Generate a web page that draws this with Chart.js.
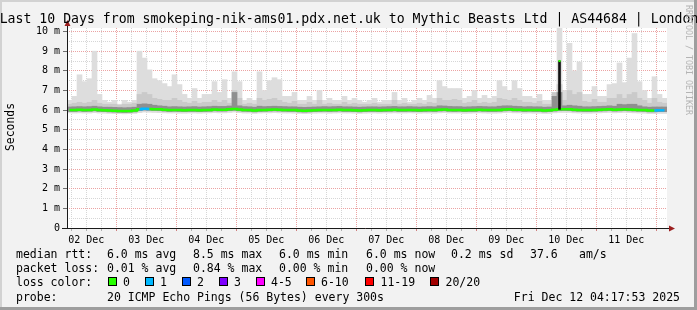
<!DOCTYPE html>
<html>
<head>
<meta charset="utf-8">
<script src="https://cdn.jsdelivr.net/npm/chart.js@4/dist/chart.umd.min.js"></script>
<style>
  html, body { margin: 0; padding: 0; background: #f2f2f2; }
  canvas { display: block; }
</style>
</head>
<body>
<canvas id="smoke" width="697" height="310"></canvas>
<script>
// 10 days, 2-hour bins, starting Dec 2 04:17:53
const startHour = 4 + 17 / 60 + 53 / 3600;
const dayLabels = ["02 Dec", "03 Dec", "04 Dec", "05 Dec", "06 Dec", "07 Dec", "08 Dec", "09 Dec", "10 Dec", "11 Dec"];

// smoke (ms): outer min / max, inner shades, median
const smokeMax = [
  6.5, 6.7, 7.8, 7.45, 7.6, 9.0, 6.8, 6.5, 6.4, 6.5,
  6.3, 6.5, 6.4, 6.5, 9.0, 8.65, 8.05, 7.6, 7.5, 7.35,
  7.2, 7.8, 7.3, 6.8, 6.6, 7.1, 6.6, 6.8, 6.8, 7.45,
  6.9, 7.55, 6.6, 7.95, 7.45, 6.5, 6.6, 6.5, 7.95, 7.0,
  7.5, 7.65, 7.55, 6.7, 6.7, 6.9, 6.5, 6.5, 6.7, 6.5,
  7.0, 6.5, 6.6, 6.5, 6.5, 6.7, 6.5, 6.6, 6.5, 6.4,
  6.5, 6.6, 6.4, 6.5, 6.5, 6.9, 6.5, 6.6, 6.4, 6.5,
  6.6, 6.5, 6.75, 6.6, 7.5, 7.2, 7.1, 7.1, 7.1, 6.6,
  6.7, 7.0, 6.6, 6.75, 6.6, 6.7, 7.5, 7.2, 7.0, 7.5,
  7.1, 6.7, 6.7, 6.6, 6.8, 6.5, 6.5, 6.75, 10.2, 7.0,
  9.4, 8.0, 8.45, 6.8, 6.8, 7.2, 6.7, 6.7, 7.3, 7.35,
  8.4, 7.4, 8.65, 9.9, 7.45, 7.0, 6.6, 7.7, 6.8, 6.6
];
const smokeMid = [
  6.3, 6.35, 6.4, 6.35, 6.4, 6.5, 6.35, 6.3, 6.3, 6.3,
  6.25, 6.3, 6.3, 6.35, 6.8, 6.9, 6.8, 6.6, 6.55, 6.5,
  6.5, 6.6, 6.5, 6.4, 6.35, 6.45, 6.35, 6.4, 6.4, 6.5,
  6.4, 6.5, 6.35, 7.0, 6.6, 6.3, 6.35, 6.3, 6.6, 6.5,
  6.55, 6.6, 6.5, 6.4, 6.35, 6.45, 6.3, 6.3, 6.4, 6.3,
  6.5, 6.3, 6.35, 6.3, 6.3, 6.4, 6.3, 6.35, 6.3, 6.3,
  6.3, 6.35, 6.3, 6.3, 6.3, 6.5, 6.3, 6.35, 6.3, 6.3,
  6.35, 6.3, 6.4, 6.35, 6.6, 6.5, 6.5, 6.55, 6.5, 6.35,
  6.4, 6.5, 6.35, 6.4, 6.35, 6.4, 6.6, 6.55, 6.5, 6.6,
  6.5, 6.4, 6.4, 6.35, 6.45, 6.3, 6.3, 6.9, 7.3, 6.5,
  7.0, 6.8, 6.9, 6.45, 6.4, 6.55, 6.4, 6.4, 6.6, 6.6,
  6.8, 6.6, 6.8, 6.9, 6.6, 6.5, 6.35, 6.6, 6.4, 6.35
];
const smokeDark = [
  6.16, 6.17, 6.18, 6.17, 6.18, 6.2, 6.17, 6.15, 6.15, 6.14,
  6.13, 6.12, 6.13, 6.15, 6.3, 6.32, 6.3, 6.25, 6.22, 6.2,
  6.17, 6.18, 6.17, 6.16, 6.17, 6.18, 6.16, 6.17, 6.18, 6.2,
  6.19, 6.19, 6.21, 6.9, 6.22, 6.18, 6.17, 6.15, 6.2, 6.18,
  6.19, 6.2, 6.19, 6.18, 6.17, 6.17, 6.15, 6.14, 6.15, 6.16,
  6.17, 6.18, 6.17, 6.18, 6.19, 6.17, 6.17, 6.16, 6.15, 6.16,
  6.17, 6.17, 6.16, 6.17, 6.18, 6.19, 6.17, 6.17, 6.18, 6.17,
  6.16, 6.17, 6.18, 6.17, 6.22, 6.21, 6.19, 6.18, 6.18, 6.16,
  6.17, 6.18, 6.19, 6.18, 6.17, 6.17, 6.2, 6.22, 6.22, 6.2,
  6.19, 6.17, 6.18, 6.17, 6.17, 6.15, 6.16, 6.7, 6.9, 6.22,
  6.25, 6.22, 6.2, 6.17, 6.17, 6.18, 6.19, 6.2, 6.22, 6.2,
  6.3, 6.28, 6.3, 6.3, 6.22, 6.17, 6.15, 6.16, 6.16, 6.16
];
const smokeLow = [
  5.93, 5.93, 5.95, 5.93, 5.94, 5.96, 5.93, 5.92, 5.91, 5.9,
  5.89, 5.88, 5.89, 5.91, 5.97, 6.0, 5.99, 5.98, 5.97, 5.95,
  5.93, 5.94, 5.93, 5.92, 5.93, 5.93, 5.92, 5.93, 5.94, 5.96,
  5.95, 5.95, 5.97, 5.99, 5.96, 5.94, 5.93, 5.91, 5.93, 5.94,
  5.95, 5.96, 5.95, 5.94, 5.93, 5.93, 5.91, 5.9, 5.91, 5.92,
  5.93, 5.94, 5.93, 5.94, 5.95, 5.93, 5.93, 5.92, 5.91, 5.92,
  5.93, 5.93, 5.92, 5.93, 5.94, 5.95, 5.93, 5.93, 5.94, 5.93,
  5.92, 5.93, 5.94, 5.93, 5.95, 5.96, 5.94, 5.93, 5.94, 5.92,
  5.93, 5.93, 5.95, 5.94, 5.93, 5.93, 5.94, 5.96, 5.97, 5.95,
  5.95, 5.93, 5.94, 5.93, 5.93, 5.91, 5.92, 5.95, 5.97, 5.98,
  5.97, 5.95, 5.94, 5.93, 5.93, 5.94, 5.95, 5.96, 5.97, 5.95,
  5.96, 5.97, 5.96, 5.95, 5.94, 5.93, 5.91, 5.91, 5.92, 5.92
];
const smokeMin = [
  5.86, 5.85, 5.86, 5.85, 5.85, 5.87, 5.85, 5.84, 5.83, 5.82,
  5.82, 5.81, 5.82, 5.83, 5.87, 5.9, 5.89, 5.88, 5.87, 5.86,
  5.85, 5.85, 5.84, 5.84, 5.85, 5.85, 5.84, 5.85, 5.86, 5.87,
  5.86, 5.86, 5.88, 5.9, 5.87, 5.85, 5.85, 5.83, 5.85, 5.86,
  5.86, 5.87, 5.86, 5.85, 5.85, 5.84, 5.83, 5.82, 5.83, 5.84,
  5.85, 5.85, 5.84, 5.85, 5.86, 5.85, 5.85, 5.84, 5.83, 5.84,
  5.85, 5.85, 5.84, 5.85, 5.85, 5.86, 5.85, 5.85, 5.86, 5.85,
  5.84, 5.85, 5.85, 5.84, 5.86, 5.87, 5.85, 5.85, 5.85, 5.83,
  5.84, 5.85, 5.86, 5.85, 5.84, 5.84, 5.85, 5.87, 5.88, 5.86,
  5.86, 5.84, 5.85, 5.84, 5.84, 5.83, 5.83, 5.86, 5.88, 5.88,
  5.88, 5.86, 5.85, 5.84, 5.84, 5.85, 5.86, 5.87, 5.88, 5.86,
  5.87, 5.88, 5.87, 5.86, 5.85, 5.84, 5.82, 5.82, 5.83, 5.83
];
const median = [
  6.0, 6.0, 6.02, 6.0, 6.01, 6.03, 6.0, 5.99, 5.98, 5.97,
  5.96, 5.95, 5.96, 5.98, 6.04, 6.07, 6.06, 6.05, 6.04, 6.02,
  6.0, 6.01, 6.0, 5.99, 6.0, 6.0, 5.99, 6.0, 6.01, 6.03,
  6.02, 6.02, 6.04, 6.06, 6.03, 6.01, 6.0, 5.98, 6.0, 6.01,
  6.02, 6.03, 6.02, 6.01, 6.0, 6.0, 5.98, 5.97, 5.98, 5.99,
  6.0, 6.01, 6.0, 6.01, 6.02, 6.0, 6.0, 5.99, 5.98, 5.99,
  6.0, 6.0, 5.99, 6.0, 6.01, 6.02, 6.0, 6.0, 6.01, 6.0,
  5.99, 6.0, 6.01, 6.0, 6.02, 6.03, 6.01, 6.0, 6.01, 5.99,
  6.0, 6.0, 6.02, 6.01, 6.0, 6.0, 6.01, 6.03, 6.04, 6.02,
  6.02, 6.0, 6.01, 6.0, 6.0, 5.98, 5.99, 6.02, 6.04, 6.05,
  6.04, 6.02, 6.01, 6.0, 6.0, 6.01, 6.02, 6.03, 6.04, 6.02,
  6.03, 6.04, 6.03, 6.02, 6.01, 6.0, 5.98, 5.98, 5.99, 5.99
];
// bins with lost pings, and the one median spike
const lossBins = [15, 118];
const lossCounts = [1, 1];
const spikeBins = [98];
const spikeValues = [8.5];

const lossNames = ["0", "1", "2", "3", "4-5", "6-10", "11-19", "20/20"];
const lossColors = ["#26ff00", "#00b8ff", "#0059ff", "#7e00ff", "#ff00ff", "#ff5500", "#ff0000", "#a10000"];
const rttStats = ["6.0 ms avg", "8.5 ms max", "6.0 ms min", "6.0 ms now", "0.2 ms sd", "37.6", "am/s"];
const lossStats = ["0.01 % avg", "0.84 % max", "0.00 % min", "0.00 % now"];

const binLabels = median.map((v, i) => String(i));
const range = (lo, hi) => lo.map((v, i) => [v, hi[i]]);
const lossAt = i => { const k = lossBins.indexOf(i); return k < 0 ? 0 : lossCounts[k]; };
const spikeBar = median.map((v, i) => { const k = spikeBins.indexOf(i); return k < 0 ? null : [v, spikeValues[k]]; });
const spikeTop = median.map((v, i) => { const k = spikeBins.indexOf(i); return k < 0 ? null : spikeValues[k]; });

const MONO = '"DejaVu Sans Mono", monospace';
const MAJOR = "#eba3a3";
const MINOR = "#d6d6d6";
const tv = c => (c.tick ? c.tick.value : 0.25);

const frame = {
  id: "frame",
  beforeDraw(chart) {
    const c = chart.ctx, a = chart.chartArea;
    c.save();
    c.fillStyle = "#f2f2f2"; c.fillRect(0, 0, 697, 310);
    c.fillStyle = "#d2d2d2"; c.fillRect(0, 0, 697, 2); c.fillRect(0, 0, 2, 310);
    c.fillStyle = "#9e9e9e"; c.fillRect(0, 307, 697, 3); c.fillRect(694, 0, 3, 310);
    c.fillStyle = "#ffffff"; c.fillRect(a.left, a.top, a.right - a.left, a.bottom - a.top);
    c.restore();
  },
  afterDraw(chart) {
    const c = chart.ctx, a = chart.chartArea;
    c.save();
    // axes with arrows
    c.strokeStyle = "#1a1a1a"; c.lineWidth = 1;
    c.beginPath();
    c.moveTo(a.left + 0.5, a.bottom); c.lineTo(a.left + 0.5, a.top - 3);
    c.moveTo(a.left - 5, a.bottom + 0.5); c.lineTo(a.right + 2, a.bottom + 0.5);
    c.stroke();
    c.fillStyle = "#9b1f1f";
    c.beginPath();
    c.moveTo(a.left + 0.5, a.top - 8); c.lineTo(a.left - 2.5, a.top - 2); c.lineTo(a.left + 3.5, a.top - 2); c.closePath();
    c.moveTo(a.right + 8, a.bottom + 0.5); c.lineTo(a.right + 2, a.bottom - 2.5); c.lineTo(a.right + 2, a.bottom + 3.5); c.closePath();
    c.fill();

    // title
    c.fillStyle = "#000";
    c.font = "13.2px " + MONO;
    c.textAlign = "center"; c.textBaseline = "alphabetic";
    c.fillText("Last 10 Days from smokeping-nik-ams01.pdx.net.uk to Mythic Beasts Ltd | AS44684 | London", 349, 23);

    // y label
    c.save();
    c.font = "11.4px " + MONO;
    c.translate(11, 127); c.rotate(-Math.PI / 2);
    c.textBaseline = "middle";
    c.fillText("Seconds", 0, 0);
    c.restore();

    // watermark
    c.save();
    c.font = "8.3px " + MONO;
    c.fillStyle = "#b4b4b4";
    c.translate(688, 5); c.rotate(Math.PI / 2);
    c.textAlign = "left"; c.textBaseline = "middle";
    c.fillText("RRDTOOL / TOBI OETIKER", 0, 0);
    c.restore();

    // legend
    c.font = "11.5px " + MONO;
    c.textAlign = "left"; c.textBaseline = "alphabetic";
    c.fillText("median rtt:", 16, 258);
    [107, 193, 279, 366, 451, 530, 579].forEach((x, i) => c.fillText(rttStats[i], x, 258));
    c.fillText("packet loss:", 16, 272.2);
    [107, 193, 279, 366].forEach((x, i) => c.fillText(lossStats[i], x, 272.2));
    c.fillText("loss color:", 16, 286.4);
    const boxX = [108, 145, 182, 219, 256, 306, 365, 430];
    const txtX = [123, 160, 197, 234, 271, 321, 380.5, 445.5];
    lossNames.forEach((n, i) => {
      c.fillStyle = lossColors[i];
      c.fillRect(boxX[i] + 0.5, 277.5, 8, 8);
      c.strokeStyle = "#000";
      c.strokeRect(boxX[i] + 0.5, 277.5, 8, 8);
      c.fillStyle = "#000";
      c.fillText(n, txtX[i], 286.4);
    });
    c.fillText("probe:", 16, 300.6);
    c.fillText("20 ICMP Echo Pings (56 Bytes) every 300s", 107, 300.6);
    c.textAlign = "right";
    c.fillText("Fri Dec 12 04:17:53 2025", 680, 300.6);
    c.restore();
  }
};

const barBase = { type: "bar", barPercentage: 1, categoryPercentage: 1, grouped: false, borderWidth: 0 };

new Chart(document.getElementById("smoke").getContext("2d"), {
  type: "bar",
  data: {
    labels: binLabels,
    datasets: [
      { ...barBase, data: range(smokeMin, smokeMax), backgroundColor: "#dddddd", order: 6 },
      { ...barBase, data: range(smokeLow, smokeMid), backgroundColor: "#cacaca", order: 5 },
      { ...barBase, data: range(smokeLow, smokeDark), backgroundColor: "#8f8f8f", order: 4 },
      {
        type: "line", data: median, borderColor: lossColors[0], borderWidth: 2.5,
        pointRadius: 0, stepped: "middle", order: 3,
        segment: { borderColor: s => lossColors[Math.max(lossAt(s.p0DataIndex), lossAt(s.p1DataIndex))] }
      },
      { ...barBase, data: spikeBar, backgroundColor: "#111111", barThickness: 2, order: 2 },
      {
        type: "line", data: spikeTop, showLine: false, pointStyle: "rect", pointRadius: 1.5,
        pointBackgroundColor: lossColors[0], pointBorderWidth: 0, order: 1
      }
    ]
  },
  options: {
    responsive: false,
    animation: false,
    events: [],
    layout: { padding: { left: 0, right: 30, top: 28, bottom: 62 } },
    plugins: { legend: { display: false }, tooltip: { enabled: false } },
    scales: {
      x: { type: "category", display: false, offset: true },
      xt: {
        type: "linear", position: "bottom", offset: false,
        min: startHour, max: startHour + 240,
        afterBuildTicks: s => {
          const t = [];
          for (let h = 6; h <= 240; h += 6) t.push({ value: h });
          s.ticks = t;
        },
        afterFit: s => { s.height = 20; s.paddingLeft = 0; s.paddingRight = 0; },
        border: { display: false, dash: [1, 1] },
        grid: {
          offset: false,
          color: c => (tv(c) % 24 === 0 ? MAJOR : MINOR),
          tickLength: 3,
          tickColor: c => (tv(c) % 24 === 0 ? "#d08080" : "#b0b0b0")
        },
        ticks: {
          autoSkip: false, maxRotation: 0, padding: 3, color: "#000",
          font: { family: MONO, size: 10 },
          callback: v => (v % 24 === 12 ? dayLabels[(v - 12) / 24] : "")
        }
      },
      y: {
        min: 0, max: 10.18,
        afterBuildTicks: s => {
          const t = [];
          for (let v = 0; v <= 10; v += 0.5) t.push({ value: v });
          s.ticks = t;
        },
        afterFit: s => { s.width = 67; },
        border: { display: false, dash: [1, 1] },
        grid: {
          color: c => (tv(c) % 1 === 0 ? MAJOR : MINOR),
          tickLength: 4,
          tickColor: c => (tv(c) % 1 === 0 ? "#707070" : "rgba(0,0,0,0)")
        },
        ticks: {
          autoSkip: false, padding: 3, color: "#000",
          font: { family: MONO, size: 10 },
          callback: v => (v % 1 !== 0 ? "" : v === 0 ? "0" : v + " m")
        }
      }
    }
  },
  plugins: [frame]
});
</script>
</body>
</html>
